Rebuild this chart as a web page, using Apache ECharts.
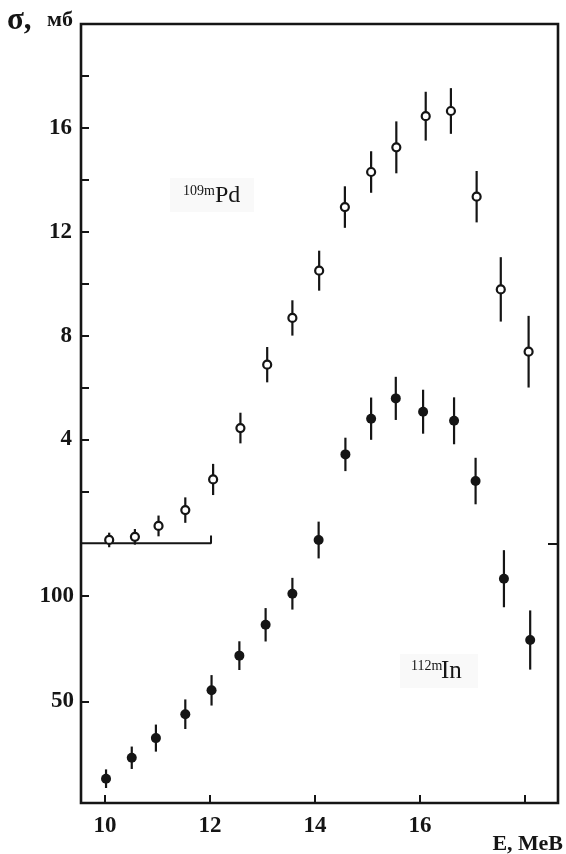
<!DOCTYPE html>
<html><head><meta charset="utf-8">
<script src="https://cdn.jsdelivr.net/npm/echarts@6/dist/echarts.min.js"></script>
<style>html,body{margin:0;padding:0;background:#fff}#c{width:566px;height:854px}</style>
</head><body><div id="c"></div>
<script>
// 109mPd (open circles), cross-section in mb, left upper scale
const pdEnergy = [10.08, 10.57, 11.02, 11.53, 12.06, 12.58, 13.09, 13.57, 14.08, 14.57, 15.07, 15.55, 16.11, 16.59, 17.08, 17.54, 18.07];
const pdValue  = [0.13, 0.25, 0.67, 1.28, 2.46, 4.44, 6.88, 8.68, 10.50, 12.95, 14.3, 15.25, 16.45, 16.65, 13.35, 9.78, 7.38];
const pdError  = [0.28, 0.3, 0.4, 0.49, 0.6, 0.59, 0.68, 0.68, 0.77, 0.8, 0.8, 1.0, 0.94, 0.88, 0.99, 1.24, 1.38];
// 112mIn (filled circles), left lower scale
const inEnergy = [10.02, 10.51, 10.97, 11.53, 12.03, 12.56, 13.06, 13.57, 14.07, 14.58, 15.07, 15.54, 16.06, 16.65, 17.06, 17.6, 18.1];
const inValue  = [13.5, 23.4, 32.7, 44.0, 55.3, 71.7, 86.3, 101.0, 126.4, 166.9, 183.8, 193.4, 187.1, 182.8, 154.3, 108.1, 79.1];
const inError  = [4.4, 5.3, 6.4, 7.0, 7.2, 6.8, 7.9, 7.5, 8.7, 7.9, 10.0, 10.2, 10.4, 11.1, 11.0, 13.5, 14.0];
// ticks and labels
const xTicks = [10, 12, 14, 16, 18];
const xLabels = [10, 12, 14, 16];
const pdTicks = [2, 4, 6, 8, 10, 12, 14, 16, 18];
const pdLabels = [4, 8, 12, 16];
const inTicks = [50, 100];
const inLabels = [50, 100];
const pdZeroTick = [0];
const pdBaselineEnd = 12.02;

const serif = '"Liberation Serif","Times New Roman",serif';
const ink = '#151515';

function errData(E, V, S) { return E.map((e, i) => [e, V[i] - S[i], V[i] + S[i]]); }
function renderErr(params, api) {
  const a = api.coord([api.value(0), api.value(1)]);
  const b = api.coord([api.value(0), api.value(2)]);
  return { type: 'line', shape: { x1: a[0], y1: a[1], x2: b[0], y2: b[1] },
           style: { stroke: ink, lineWidth: 2.2 } };
}
const lblStyle = { fontFamily: serif, fontWeight: 'bold', fontSize: 23, color: ink };
const tickStyle = { color: ink, width: 2 };

const chart = echarts.init(document.getElementById('c'), null, { renderer: 'canvas' });
chart.setOption({
  animation: false,
  backgroundColor: '#fff',
  grid: { left: 81, top: 24, right: 8, bottom: 51, show: true, borderColor: ink, borderWidth: 2.6, backgroundColor: 'transparent' },
  xAxis: {
    type: 'value', min: 9.543, max: 18.63,
    axisLine: { show: false, onZero: false }, splitLine: { show: false },
    axisTick: { inside: true, length: 8, lineStyle: tickStyle, customValues: xTicks },
    axisLabel: Object.assign({ customValues: xLabels, margin: 12 }, lblStyle)
  },
  yAxis: [
    { type: 'value', min: -10, max: 20, position: 'left',
      axisLine: { show: false, onZero: false }, splitLine: { show: false },
      axisTick: { inside: true, length: 8, lineStyle: tickStyle, customValues: pdTicks },
      axisLabel: Object.assign({ customValues: pdLabels, margin: 9 }, lblStyle) },
    { type: 'value', min: 2, max: 370.5, position: 'left',
      axisLine: { show: false, onZero: false }, splitLine: { show: false },
      axisTick: { inside: true, length: 8, lineStyle: tickStyle, customValues: inTicks },
      axisLabel: Object.assign({ customValues: inLabels, margin: 7 }, lblStyle) },
    { type: 'value', min: -10, max: 20, position: 'right',
      axisLine: { show: false, onZero: false }, splitLine: { show: false },
      axisTick: { inside: true, length: 10, lineStyle: tickStyle, customValues: pdZeroTick },
      axisLabel: { show: false } }
  ],
  series: [
    { type: 'line', yAxisIndex: 0, symbol: 'none', z: 2,
      data: [[9.5, 0], [pdBaselineEnd, 0], [pdBaselineEnd, 0.3]],
      lineStyle: { color: ink, width: 2 } },
    { type: 'custom', yAxisIndex: 0, z: 3, renderItem: renderErr,
      encode: { x: 0, y: [1, 2] }, data: errData(pdEnergy, pdValue, pdError) },
    { type: 'scatter', yAxisIndex: 0, z: 4, symbol: 'circle', symbolSize: 8,
      itemStyle: { color: '#fff', borderColor: ink, borderWidth: 2.2, opacity: 1 },
      data: pdEnergy.map((e, i) => [e, pdValue[i]]) },
    { type: 'custom', yAxisIndex: 1, z: 3, renderItem: renderErr,
      encode: { x: 0, y: [1, 2] }, data: errData(inEnergy, inValue, inError) },
    { type: 'scatter', yAxisIndex: 1, z: 4, symbol: 'circle', symbolSize: 10,
      itemStyle: { color: ink, opacity: 1 },
      data: inEnergy.map((e, i) => [e, inValue[i]]) }
  ],
  graphic: [
    { type: 'text', left: 7, top: 5, style: { text: 'σ,', fontFamily: serif, fontWeight: 'bold', fontSize: 31, fill: ink } },
    { type: 'text', left: 47, top: 9, style: { text: 'мб', fontFamily: serif, fontWeight: 'bold', fontSize: 22, fill: ink } },
    { type: 'text', right: 3, top: 833, style: { text: 'Е, МеВ', fontFamily: serif, fontWeight: 'bold', fontSize: 22, fill: ink } },
    { type: 'rect', shape: { x: 170, y: 178, width: 84, height: 34 }, style: { fill: '#f9f9f9' }, z: 0 },
    { type: 'text', x: 183, y: 191, style: { text: '109m', fontFamily: serif, fontSize: 14, fill: ink, verticalAlign: 'middle' }, z: 5 },
    { type: 'text', x: 215, y: 196, style: { text: 'Pd', fontFamily: serif, fontSize: 24, fill: ink, verticalAlign: 'middle' }, z: 5 },
    { type: 'rect', shape: { x: 400, y: 654, width: 78, height: 34 }, style: { fill: '#f9f9f9' }, z: 0 },
    { type: 'text', x: 411, y: 666, style: { text: '112m', fontFamily: serif, fontSize: 14, fill: ink, verticalAlign: 'middle' }, z: 5 },
    { type: 'text', x: 441, y: 671, style: { text: 'In', fontFamily: serif, fontSize: 25, fill: ink, verticalAlign: 'middle' }, z: 5 }
  ]
});
</script></body></html>
